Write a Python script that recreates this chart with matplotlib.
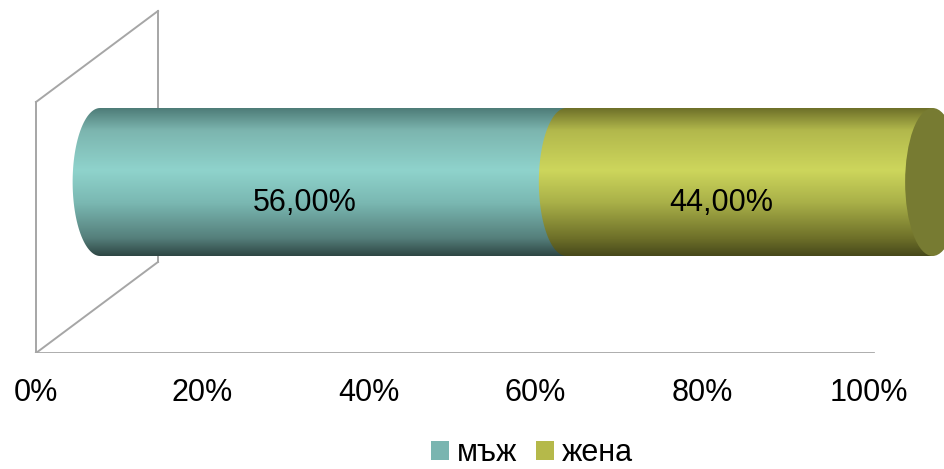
import numpy as np
import matplotlib
matplotlib.use("Agg")
import matplotlib.pyplot as plt
from matplotlib.path import Path
from matplotlib.patches import PathPatch, Ellipse, Patch
from matplotlib.colors import LinearSegmentedColormap

plt.rcParams['font.family'] = ['Liberation Sans', 'DejaVu Sans']

# data
categories = ['мъж', 'жена']
values = [56.0, 44.0]
labels = ['56,00%', '44,00%']
ticks = [0, 20, 40, 60, 80, 100]
tick_labels = ['0%', '20%', '40%', '60%', '80%', '100%']

legend_colors = ['#7ab5b0', '#b5b94a']
shades = [
    ['#2e4644', '#557f7b', '#7ab8b2', '#8fd3cc', '#7cb5af', '#4e7c78'],
    ['#47491b', '#6e7029', '#a9b048', '#cdd65c', '#b2b84c', '#6e7029'],
]
stops = [0.0, 0.12, 0.36, 0.58, 0.85, 1.0]
cap_color = '#777b32'

fig = plt.figure(figsize=(9.44, 4.69), dpi=100)
px = 8.325  # pixels per percent
ax = fig.add_axes([0, 116 / 469, 1, 353 / 469])
ax.set_xlim(-36 / px, (944 - 36) / px)
ax.set_ylim(0, 353)
for s in ax.spines.values():
    s.set_visible(False)
ax.set_yticks([])
ax.set_xticks(ticks)
ax.set_xticklabels(tick_labels, fontsize=22)
ax.tick_params(axis='x', length=0, pad=18)

# back wall and floor
depth_x, depth_y, wall_h = 14.65, 91, 251
wall_kw = dict(color='#a6a6a6', lw=1.4, zorder=1)
ax.plot([0, 0], [0, wall_h], **wall_kw)
ax.plot([0, depth_x], [0, depth_y], **wall_kw)
ax.plot([0, depth_x], [wall_h, wall_h + depth_y], **wall_kw)
ax.plot([depth_x, depth_x], [depth_y, wall_h + depth_y], **wall_kw)
ax.plot([0, 100.5], [0, 0], color='#a6a6a6', lw=2, zorder=1)

# cylinder
off = 7.7
yc, r = 171, 74
ew = 3.3  # horizontal semi-axis of the caps


def segment_path(x0, x1):
    t = np.linspace(np.pi / 2, 3 * np.pi / 2, 60)
    xs = list(x0 + ew * np.cos(t)) + [x1, x1]
    ys = list(yc + r * np.sin(t)) + [yc - r, yc + r]
    return Path(np.column_stack([xs, ys]), closed=False)


start = 0.0
for i, v in enumerate(values):
    x0, x1 = off + start, off + start + v
    cmap = LinearSegmentedColormap.from_list('c%d' % i, list(zip(stops, shades[i])))
    patch = PathPatch(segment_path(x0, x1), facecolor='none', edgecolor='none',
                      transform=ax.transData)
    ax.add_patch(patch)
    grad = np.linspace(0, 1, 256).reshape(-1, 1)
    im = ax.imshow(grad, cmap=cmap, aspect='auto', origin='lower',
                   extent=[x0 - ew - 0.5, x1 + 0.5, yc - r, yc + r],
                   zorder=2 + i, interpolation='bilinear')
    im.set_clip_path(patch)
    ax.text(start + v / 2 + 4.3, yc - 21, labels[i], fontsize=22,
            ha='center', va='center', zorder=10)
    start += v

ax.add_patch(Ellipse((off + start, yc), 2 * ew, 2 * r, facecolor=cap_color,
                     edgecolor='none', zorder=5))
ax.set_xlim(-36 / px, (944 - 36) / px)
ax.set_ylim(0, 353)

handles = [Patch(facecolor=c, edgecolor='none') for c in legend_colors]
fig.legend(handles, categories, loc='center', bbox_to_anchor=(0.5635, 0.034),
           ncol=2, frameon=False, fontsize=22, handlelength=0.6,
           handleheight=0.6, handletextpad=0.25, columnspacing=0.6,
           borderpad=0, borderaxespad=0)

fig.savefig('out.png', dpi=100)
